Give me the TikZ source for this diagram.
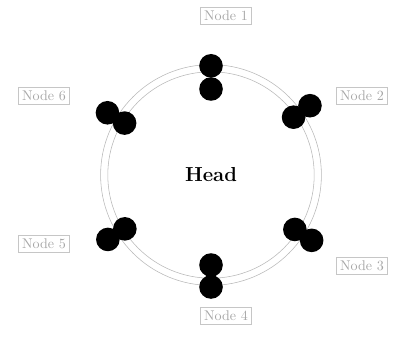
\documentclass[tikz,border=0pt]{standalone}
\usepackage{tikz}
\usetikzlibrary{calc}

\tikzset{
  peer/.style={circle, fill=black, inner sep=0pt, minimum size=0.59cm},
  tag/.style={draw=gray!45, thin, text=gray!70, font=\normalsize, inner sep=2.5pt}
}

\begin{document}
\begin{tikzpicture}

\useasboundingbox (0,0) rectangle (10.05,8.4);

% --- Ring around the head ---
\node[font=\Large\bfseries] (head) at (5.275,4.025) {Head};
\draw[gray!55, thin] (head.center) circle (2.76cm);
\draw[gray!55, thin] (head.center) circle (2.58cm);

% --- Pairs of dots on the ring ---
\foreach \ang/\ro/\ri/\nm in {90/2.73/2.15/a, 35/3.02/2.52/b, -33/3.0/2.5/c,
                              -90/2.8/2.25/d, 212/3.04/2.54/e, 149/3.02/2.52/f} {
  \node[peer] (\nm out) at ($(head.center)+(\ang:\ro)$) {};
  \node[peer] (\nm in)  at ($(head.center)+(\ang:\ri)$) {};
}

% --- Labels ---
\node[tag] (ta) at (5.65,8.0)   {Node 1};
\node[tag] (tb) at (9.05,6.0)   {Node 2};
\node[tag] (tc) at (9.05,1.75)  {Node 3};
\node[tag] (td) at (5.65,0.5)   {Node 4};
\node[tag] (te) at (1.1,2.3)    {Node 5};
\node[tag] (tf) at (1.1,6.0)    {Node 6};

\end{tikzpicture}
\end{document}
